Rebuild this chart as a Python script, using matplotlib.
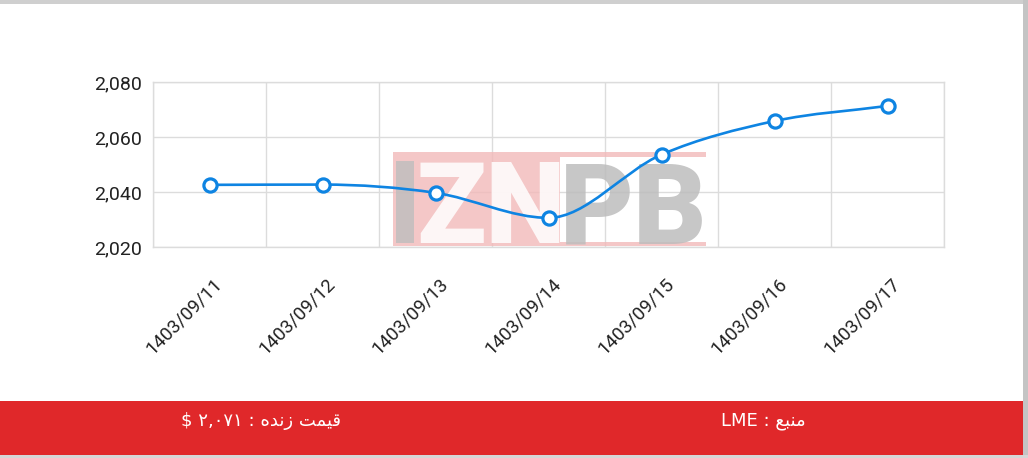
import matplotlib
matplotlib.use("Agg")
import matplotlib.pyplot as plt
from matplotlib.path import Path
from matplotlib.patches import PathPatch, Rectangle
from matplotlib.ticker import FuncFormatter, MultipleLocator
from matplotlib import transforms
import numpy as np

dates = ["1403/09/11", "1403/09/12", "1403/09/13", "1403/09/14",
         "1403/09/15", "1403/09/16", "1403/09/17"]
prices = [2042.6, 2042.7, 2039.7, 2030.6, 2053.6, 2065.8, 2071.3]

# persian texts, already shaped and in visual order (matplotlib has no bidi)
source_text = "LME : \uFECA\uFE92\uFEE8\uFEE3"
live_text = "$ \u06F2,\u06F0\u06F7\u06F1 : \uFEE9\uFEAA\uFEE7\uFEAF \uFE96\uFEE4\uFBFF\uFED7"

BLUE = "#0e84e2"
RED = "#e0282a"
W, H = 1028, 458


def monotone_path(xs, ys):
    # fritsch-carlson tangents, drawn as cubic bezier segments
    xs = np.asarray(xs, float)
    ys = np.asarray(ys, float)
    d = np.diff(ys) / np.diff(xs)
    m = np.zeros(len(xs))
    m[0], m[-1] = d[0], d[-1]
    for i in range(1, len(xs) - 1):
        if d[i - 1] * d[i] <= 0:
            m[i] = 0
        else:
            m[i] = (d[i - 1] + d[i]) / 2
    for i in range(len(d)):
        if d[i] == 0:
            m[i] = m[i + 1] = 0
            continue
        a, b = m[i] / d[i], m[i + 1] / d[i]
        s = a * a + b * b
        if s > 9:
            t = 3 / np.sqrt(s)
            m[i], m[i + 1] = t * a * d[i], t * b * d[i]
    verts = [(xs[0], ys[0])]
    codes = [Path.MOVETO]
    for i in range(len(d)):
        h = xs[i + 1] - xs[i]
        verts += [(xs[i] + h / 3, ys[i] + m[i] * h / 3),
                  (xs[i + 1] - h / 3, ys[i + 1] - m[i + 1] * h / 3),
                  (xs[i + 1], ys[i + 1])]
        codes += [Path.CURVE4] * 3
    return Path(verts, codes)


plt.rcParams["font.family"] = ["Roboto", "DejaVu Sans"]
fig = plt.figure(figsize=(W / 100, H / 100), dpi=100)
ax = fig.add_axes([153 / W, 1 - 247 / H, (944 - 153) / W, (247 - 82) / H])

x = np.arange(len(dates))
ax.set_xlim(-0.5, len(dates) - 0.5)
ax.set_ylim(2020, 2080)
ax.yaxis.set_major_locator(MultipleLocator(20))
ax.yaxis.set_major_formatter(FuncFormatter(lambda v, p: f"{v:,.0f}"))
ax.set_xticks(x)
ax.set_xticklabels([])
ax.set_xticks(np.arange(-0.5, len(dates)), minor=True)
ax.tick_params(axis="both", which="both", length=0)
ax.tick_params(axis="y", labelsize=14, labelcolor="#222222", pad=8)
ax.set_axisbelow(True)
ax.grid(axis="y", color="#dcdcdc", lw=1)
ax.grid(axis="x", which="minor", color="#dcdcdc", lw=1)
for s in ax.spines.values():
    s.set_color("#dcdcdc")
    s.set_linewidth(1)

# x labels, rotated like the original
off = transforms.offset_copy(ax.get_xaxis_transform(), fig=fig, x=10, y=-34, units="dots")
for i, lab in enumerate(dates):
    ax.text(i, 0, lab, transform=off, rotation=45, rotation_mode="anchor",
            ha="right", va="center", fontsize=13.5, color="#222222")

# watermark (IZNPB logo)
wm = dict(transform=None, clip_on=False, zorder=1, alpha=0.8, edgecolor="none")
def px(xp, yp):
    return xp, H - yp
ax.add_artist(Rectangle(px(393, 246), 167, 94, facecolor="#f2b9b9", **wm))
ax.add_artist(Rectangle(px(560, 157), 146, 5, facecolor="#f2b9b9", **wm))
ax.add_artist(Rectangle(px(560, 246), 146, 4, facecolor="#f2b9b9", **wm))
ax.add_artist(Rectangle(px(396, 243), 18, 82, facecolor="#bdbdbd", **wm))
tk = dict(transform=None, clip_on=False, zorder=1, alpha=0.85, fontsize=82,
          fontweight="heavy", va="baseline", ha="left")
ax.text(*px(416, 243), "ZN", color="white", **tk)
ax.text(*px(560, 243), "PB", color="#bdbdbd", **tk)

ax.add_patch(PathPatch(monotone_path(x, prices), facecolor="none",
                       edgecolor=BLUE, lw=1.9, zorder=3))
ax.plot(x, prices, ls="none", marker="o", ms=9.5, mfc="white", mec=BLUE,
        mew=2.3, zorder=4, clip_on=False)

# frame and footer
fig.patches.append(Rectangle((0, 1 - 4 / H), 1, 4 / H, transform=fig.transFigure,
                             facecolor="#cfcfcf", edgecolor="none"))
fig.patches.append(Rectangle((1 - 5 / W, 0), 5 / W, 1, transform=fig.transFigure,
                             facecolor="#c4c4c4", edgecolor="none"))
fig.patches.append(Rectangle((0, 0), 1, 3 / H, transform=fig.transFigure,
                             facecolor="#d6d6d6", edgecolor="none"))
fig.patches.append(Rectangle((0, 3 / H), 1 - 5 / W, 54 / H, transform=fig.transFigure,
                             facecolor=RED, edgecolor="none"))
fig.text(763 / W, 1 - 421 / H, source_text, color="white", fontsize=13,
         ha="center", va="center", family=["DejaVu Sans"])
fig.text(261 / W, 1 - 421 / H, live_text, color="white", fontsize=13,
         ha="center", va="center", family=["DejaVu Sans"])

fig.savefig("out.png", dpi=100)
